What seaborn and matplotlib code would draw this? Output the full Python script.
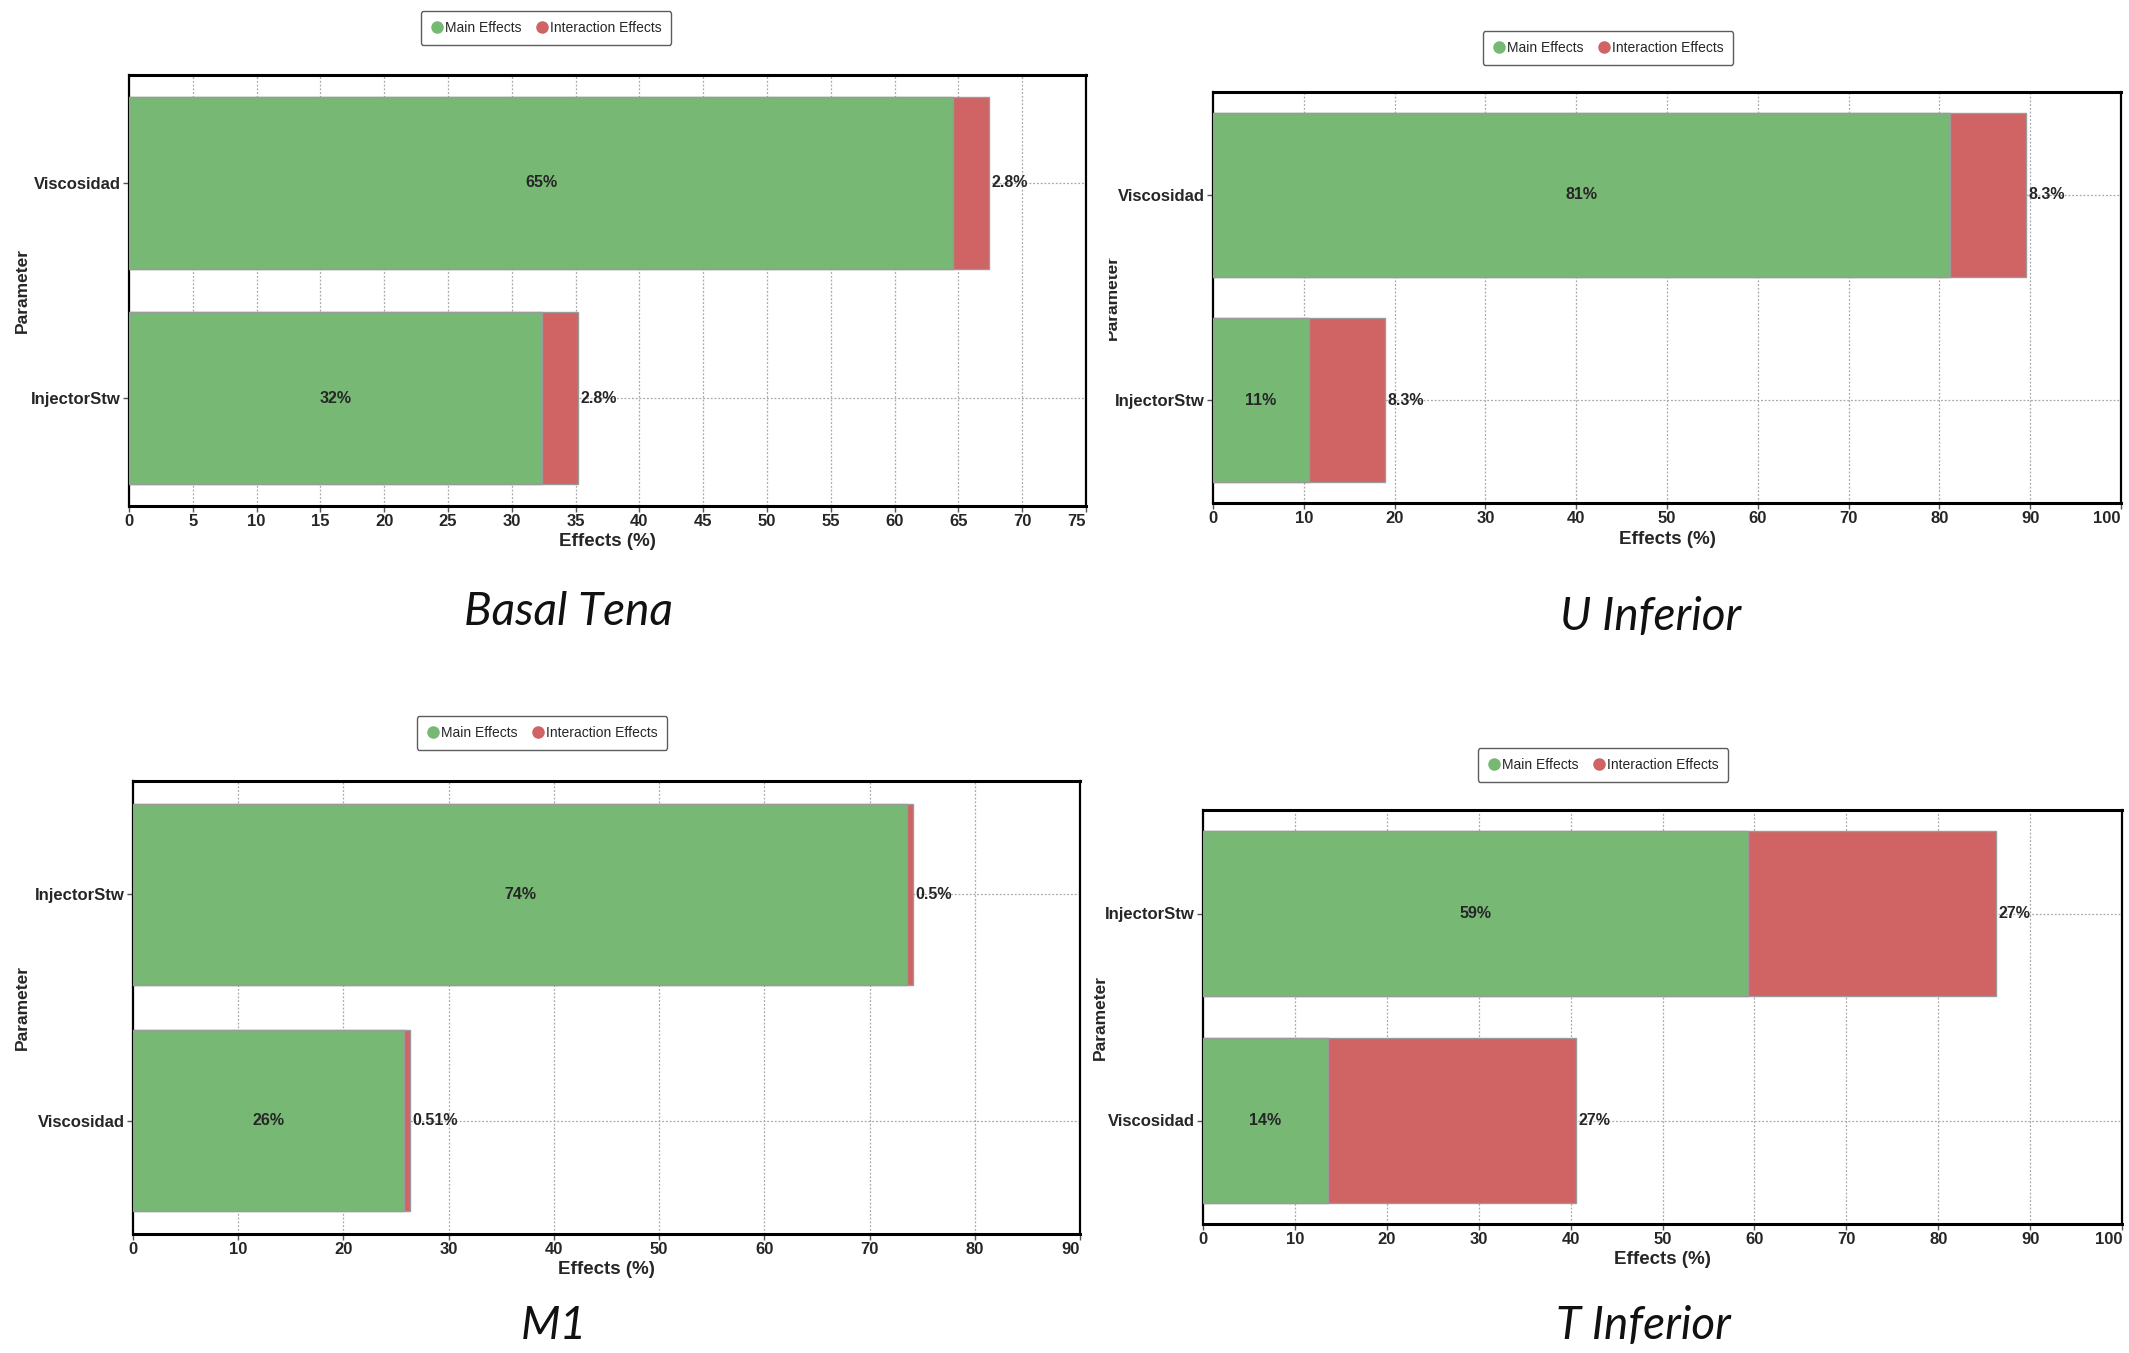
import seaborn as sns
import matplotlib
matplotlib.use("Agg")
import matplotlib.pyplot as plt
from matplotlib.lines import Line2D
from matplotlib.transforms import Bbox, TransformedBbox
import pandas as pd

# datos
titulos = ["Basal Tena", "U Inferior", "M1", "T Inferior"]

basal_param = ["Viscosidad", "InjectorStw"]
basal_main = [64.6, 32.4]
basal_inter = [2.8, 2.8]

u_param = ["Viscosidad", "InjectorStw"]
u_main = [81.2, 10.6]
u_inter = [8.3, 8.3]

m1_param = ["InjectorStw", "Viscosidad"]
m1_main = [73.6, 25.8]
m1_inter = [0.5, 0.51]

t_param = ["InjectorStw", "Viscosidad"]
t_main = [59.3, 13.6]
t_inter = [27, 27]

x_max = [75, 100, 90, 100]
x_paso = [5, 10, 10, 10]

sns.set_style("white")
plt.rcParams["font.family"] = ["Liberation Sans", "DejaVu Sans"]

VERDE = "#77b874"
ROJO = "#d06363"
W, H = 2129, 1353

fig = plt.figure(figsize=(W / 100, H / 100), dpi=100)

def fx(px):
    return px / W

def fy(px):
    return 1 - px / H

# cajas de los ejes en pixeles: izq, der, arriba, abajo
cajas = [(129, 1086, 75, 506), (1213, 2121, 92, 503),
         (133, 1080, 781, 1234), (1203, 2122, 810, 1224)]
leyendas = [(546, 28), (1608, 48), (542, 733), (1603, 765)]
subtitulos = [(568, 612), (1651, 617), (554, 1326), (1643, 1326)]
param_x = [22, 1112, 22, 1100]

paneles = [
    (basal_param, basal_main, basal_inter),
    (u_param, u_main, u_inter),
    (m1_param, m1_main, m1_inter),
    (t_param, t_main, t_inter),
]

for k, (params, main, inter) in enumerate(paneles):
    l, r, t, b = cajas[k]
    ax = fig.add_axes([fx(l), fy(b), fx(r - l), (b - t) / H])
    df = pd.DataFrame({"Parameter": params, "Main": main, "Inter": inter})
    df["Total"] = df["Main"] + df["Inter"]

    # barras apiladas: primero el total en rojo y encima el efecto principal
    sns.barplot(data=df, y="Parameter", x="Total", color=ROJO, orient="h",
                width=0.8, edgecolor="#9a9a9a", linewidth=1, ax=ax,
                saturation=1, zorder=3)
    sns.barplot(data=df, y="Parameter", x="Main", color=VERDE, orient="h",
                width=0.8, edgecolor="#9a9a9a", linewidth=1, ax=ax,
                saturation=1, zorder=4)

    for i in range(len(df)):
        ax.text(df["Main"][i] / 2, i, f"{df['Main'][i]:.2g}%", ha="center",
                va="center", fontsize=11.5, fontweight="bold", zorder=5)
        ax.annotate(f"{df['Inter'][i]:.2g}%", (df["Total"][i], i),
                    xytext=(2, 0), textcoords="offset points", ha="left",
                    va="center", fontsize=11.5, fontweight="bold", zorder=5)

    ax.set_xlim(0, x_max[k])
    ax.set_ylim(1.5, -0.5)
    ticks = list(range(0, x_max[k] + 1, x_paso[k]))
    ax.set_xticks(ticks)
    ax.set_xticklabels([str(v) for v in ticks])
    ax.get_xticklabels()[-1].set_ha("right")
    ax.grid(axis="x", color="#a8a8a8", linestyle=(0, (1.5, 1.5)), linewidth=0.9, zorder=0)
    ax.grid(axis="y", color="#a8a8a8", linestyle=(0, (1.5, 1.5)), linewidth=0.9, zorder=0)
    ax.set_axisbelow(True)
    for s in ax.spines.values():
        s.set_color("black")
        s.set_linewidth(1.6)
    ax.spines["top"].set_linewidth(2.2)
    ax.spines["bottom"].set_linewidth(2.2)
    ax.tick_params(axis="both", direction="out", length=4, width=1,
                   color="#555555", labelsize=12, pad=2, bottom=True, left=True)
    for lab in ax.get_xticklabels() + ax.get_yticklabels():
        lab.set_fontweight("bold")
    ax.set_ylabel("")
    ax.set_xlabel("Effects (%)", fontsize=13.5, fontweight="bold", labelpad=3)

    yl = fig.text(fx(param_x[k]), fy((t + b) / 2), "Parameter", rotation=90,
                  ha="center", va="center", fontsize=12.5, fontweight="bold")
    if k == 1:
        # en la figura original esta etiqueta sale recortada
        yl.set_clip_box(TransformedBbox(Bbox([[fx(1109), 0], [fx(1200), 1]]),
                                        fig.transFigure))
        yl.set_clip_on(True)

    handles = [
        Line2D([], [], marker="o", linestyle="", markersize=8,
               markerfacecolor=VERDE, markeredgecolor=VERDE, label="Main Effects"),
        Line2D([], [], marker="o", linestyle="", markersize=8,
               markerfacecolor=ROJO, markeredgecolor=ROJO, label="Interaction Effects"),
    ]
    lx, ly = leyendas[k]
    leg = fig.legend(handles=handles, loc="center", bbox_to_anchor=(fx(lx), fy(ly)),
                     ncol=2, fontsize=10, frameon=True, fancybox=True,
                     handletextpad=0.05, columnspacing=1.0, borderpad=0.7,
                     handlelength=1.0, edgecolor="#333333")
    leg.get_frame().set_linewidth(1.0)

    sx, sy = subtitulos[k]
    fig.text(fx(sx), fy(sy), titulos[k], ha="center", va="center", fontsize=33,
             style="italic", fontweight="normal", family="Lato", color="#111111")

fig.savefig("out.png", dpi=100)
